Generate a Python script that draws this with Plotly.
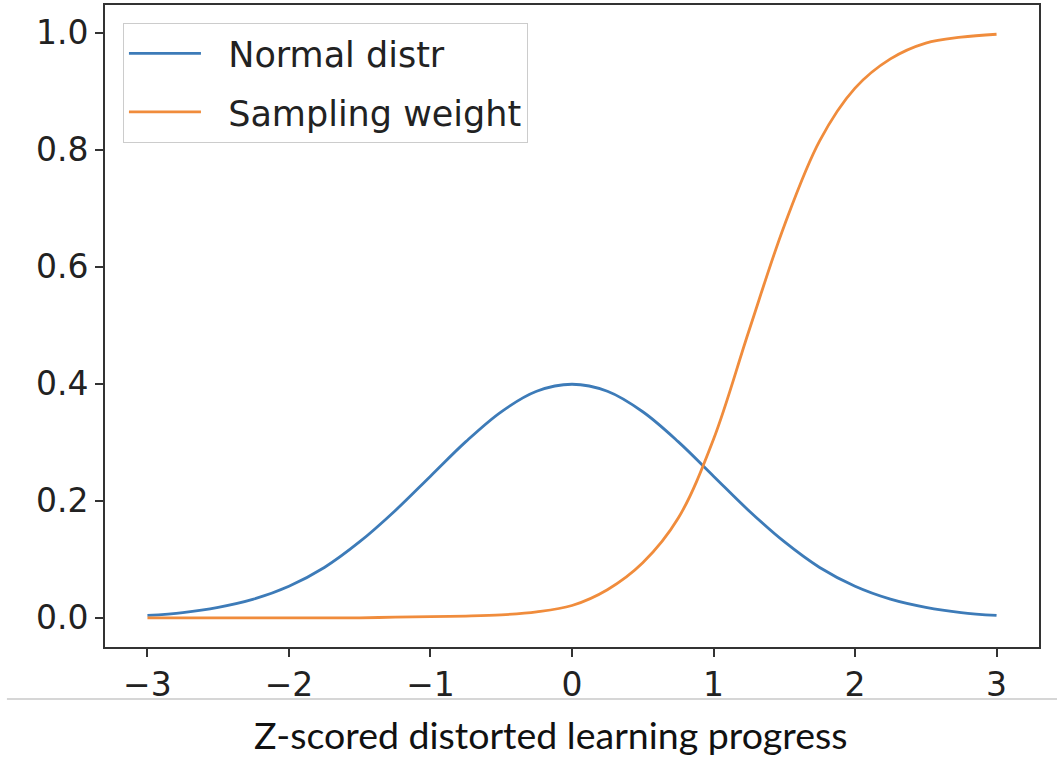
import plotly.graph_objects as go

# x grid (z-score)
z_values = [-3.0, -2.75, -2.5, -2.25, -2.0, -1.75, -1.5, -1.25, -1.0, -0.75, -0.5, -0.25,
            0.0, 0.25, 0.5, 0.75, 1.0, 1.25, 1.5, 1.75, 2.0, 2.25, 2.5, 2.75, 3.0]

normal_distr = [0.004, 0.009, 0.018, 0.032, 0.054, 0.086, 0.130, 0.183, 0.242, 0.301, 0.352, 0.387,
                0.399, 0.387, 0.352, 0.301, 0.242, 0.183, 0.130, 0.086, 0.054, 0.032, 0.018, 0.009, 0.004]

sampling_weight = [0.000, 0.000, 0.000, 0.000, 0.000, 0.000, 0.000, 0.001, 0.002, 0.003, 0.005, 0.010,
                   0.021, 0.048, 0.094, 0.170, 0.305, 0.490, 0.670, 0.815, 0.905, 0.955, 0.982, 0.992, 0.997]

x_ticks = [-3, -2, -1, 0, 1, 2, 3]
y_ticks = [0.0, 0.2, 0.4, 0.6, 0.8, 1.0]
x_title = "Z-scored distorted learning progress"
series_names = ["Normal distr", "Sampling weight"]

BLUE = "#3d7bb8"
ORANGE = "#f08c3c"
NB = "\u00a0\u00a0"

fig = go.Figure()
fig.add_trace(go.Scatter(x=z_values, y=normal_distr, mode="lines", name=NB + series_names[0],
                         line=dict(color=BLUE, width=2.8, shape="spline"), legendgroup="a"))
fig.add_trace(go.Scatter(x=z_values, y=sampling_weight, mode="lines", name=NB + series_names[1],
                         line=dict(color=ORANGE, width=2.8, shape="spline"), legendgroup="b"))

axis_common = dict(showgrid=False, zeroline=False, showline=True, linecolor="#333333", linewidth=1.6,
                   mirror=True, ticks="outside", ticklen=8, tickwidth=1.5, tickcolor="#333333",
                   automargin=False,
                   tickfont=dict(family="DejaVu Sans", size=33, color="#222222"))

fig.update_xaxes(range=[-3.3, 3.3], tickvals=x_ticks, **axis_common)
fig.update_yaxes(range=[-0.0499, 1.047], tickvals=y_ticks, tickformat=".1f", **axis_common)

fig.update_layout(
    width=1057, height=758,
    margin=dict(l=105, r=18, t=5, b=111, autoexpand=False),
    plot_bgcolor="white", paper_bgcolor="white",
    showlegend=True,
    legend=dict(x=0.019, y=0.972, xanchor="left", yanchor="top",
                bordercolor="#cccccc", borderwidth=1.2, bgcolor="white",
                font=dict(family="DejaVu Sans", size=35, color="#222222"),
                itemwidth=72, tracegroupgap=10),
    annotations=[dict(text=x_title, xref="paper", yref="paper", x=0.477, y=-0.136,
                      xanchor="center", yanchor="middle", showarrow=False,
                      font=dict(family="Lato", size=37.5, color="#111111"))],
    shapes=[dict(type="line", xref="paper", yref="paper", x0=-0.105, x1=1.02, y0=-0.081, y1=-0.081,
                 line=dict(color="#c8c8c8", width=1.5))],
)

fig.write_html("out.html", config={"displayModeBar": False},
               post_script="document.body.style.margin='0';document.body.style.overflow='hidden';")
